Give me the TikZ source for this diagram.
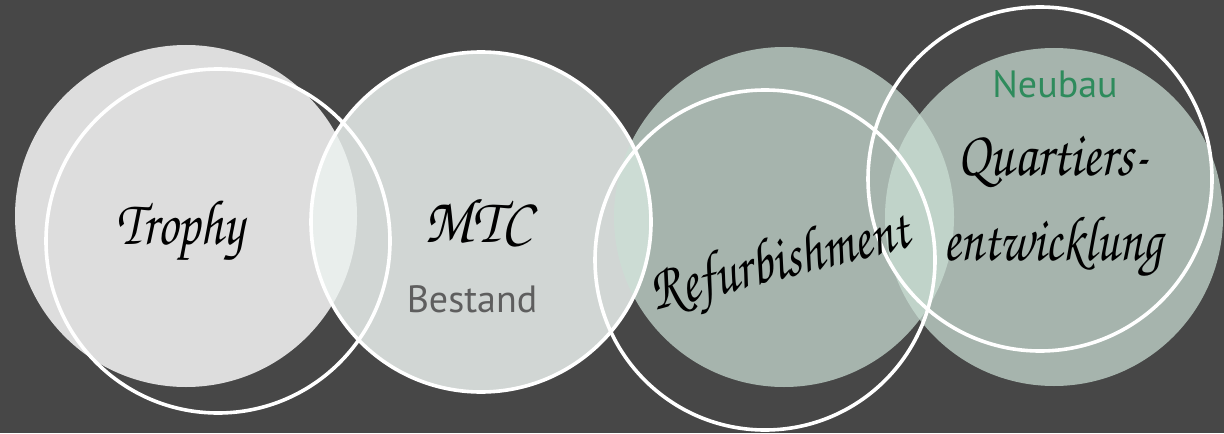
\documentclass[tikz,border=0pt]{standalone}
\usepackage[T1]{fontenc}
\usepackage{fontspec}
\setmainfont{PT Sans}
\usepackage{tikz}
\usetikzlibrary{positioning}
\definecolor{boardCol}{HTML}{474747}
\definecolor{trophyCol}{HTML}{FFFFFF}
\definecolor{mtcCol}{HTML}{ECF2F0}
\definecolor{sageCol}{HTML}{CBDFD5}
\definecolor{bestandCol}{HTML}{5E5E5E}
\definecolor{neubauCol}{HTML}{2E8B5C}
\newcommand{\handfont}[1]{\fontencoding{T1}\fontfamily{pzc}\fontseries{mb}\fontshape{it}\fontsize{#1}{1.15\dimexpr#1pt\relax}\selectfont}
\newcommand{\squeeze}[2][0.8]{\scalebox{#1}[1]{#2}}
\tikzset{
  disc/.style n args={3}{circle, inner sep=0pt, draw=none, fill=#1, fill opacity=#2, minimum size=#3},
  ring/.style={circle, inner sep=0pt, draw=white, line width=1.8pt, minimum size=#1},
  hand/.style={font=\handfont{#1}, text=black, align=center, inner sep=0pt},
  tag/.style={font=\fontsize{19}{22}\selectfont, text=#1, inner sep=0pt},
}

\begin{document}
\begin{tikzpicture}[x=0.5pt,y=-0.5pt]
  \useasboundingbox (0,0) rectangle (1224,433);
  \fill[boardCol] (0,0) rectangle (1224,433);
  % --- filled discs ---
  \node[disc={trophyCol}{0.82}{171pt}] (dTrophy) at (186,216) {};
  \node[disc={mtcCol}{0.84}{170pt}] (dMtc) at (481,222) {};
  \node[disc={sageCol}{0.72}{170pt}] (dRefurb) at (784,217) {};
  \node[disc={sageCol}{0.72}{169pt}] (dQuart) at (1054,217) {};
  % --- white rings, shifted ---
  \node[ring=172pt] (rTrophy) at (218,241) {};
  \node[ring=170pt] (rMtc) at (481,222) {};
  \node[ring=170pt] (rRefurb) at (765,260) {};
  \node[ring=172pt] (rQuart) at (1040,179) {};
  % --- labels ---
  \node[hand=32] (tTrophy) at (180,232) {\squeeze{Trophy}};
  \node[hand=32] (tMtc) at (478,220) {\squeeze[0.9]{MTC}};
  \node[tag=bestandCol] (tBestand) at (472,299) {Bestand};
  \node[hand=32, rotate=14] (tRefurb) at (781,266) {\squeeze{Refurbishment}};
  \node[tag=neubauCol] (tNeubau) at (1055,84) {Neubau};
  \node[hand=32] (tQuart) at (1053,162) {\squeeze[0.83]{Quartiers-}};
  \node[hand=32] (tEntw) at (1053,248) {\squeeze[0.78]{entwicklung}};
\end{tikzpicture}
\end{document}
